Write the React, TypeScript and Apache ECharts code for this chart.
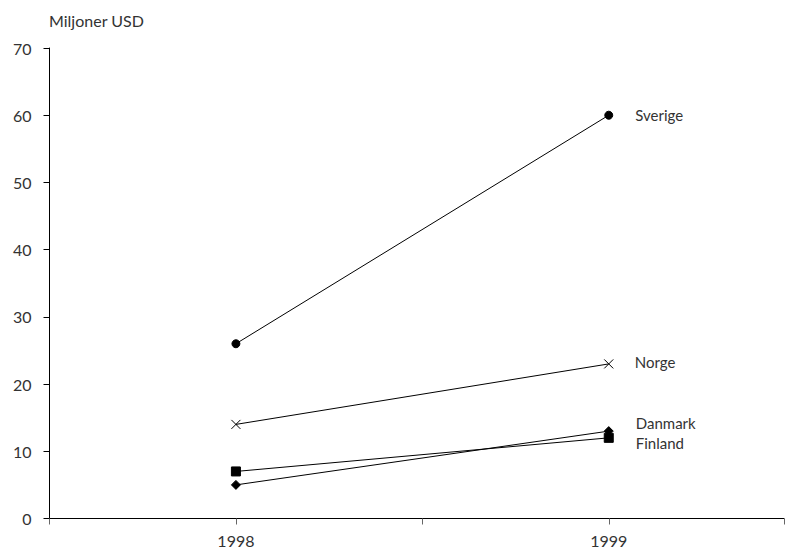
import React, { useEffect, useRef } from "react";
import * as echarts from "echarts";

const years = [1998, 1999];
const seriesNames = ["Sverige", "Norge", "Danmark", "Finland"];
const sverige = [26, 60];
const norge = [14, 23];
const danmark = [5, 13];
const finland = [7, 12];
const yTicks = [0, 10, 20, 30, 40, 50, 60, 70];
const yTitle = "Miljoner USD";

const FONT = "Lato";
const TXT = "#333";

export default function App() {
  const ref = useRef<HTMLDivElement>(null);
  useEffect(() => {
    if (!ref.current) return;
    const chart = echarts.init(ref.current, undefined, { renderer: "svg" });
    const values = [sverige, norge, danmark, finland];
    const symbols = [
      "circle",
      "path://M0,0L10,10M10,0L0,10",
      "diamond",
      "rect",
    ];
    const sizes = [8, 9, 9, 9];
    const offsets = [
      [0, 0],
      [-3, -2],
      [0, -8],
      [0, 5],
    ];
    const series = seriesNames.map((name, i) => ({
      type: "line",
      name,
      data: years.map((y, j) => [y, values[i][j]]),
      symbol: symbols[i],
      symbolSize: sizes[i],
      showAllSymbol: true,
      lineStyle: { color: "#000", width: 1 },
      itemStyle: { color: i === 1 ? "none" : "#000", borderColor: "#000", borderWidth: 1 },
      label: {
        show: true,
        position: "right",
        distance: 22,
        offset: offsets[i],
        color: TXT,
        fontFamily: FONT,
        fontSize: 15,
        formatter: (p: any) => (p.dataIndex === years.length - 1 ? name : ""),
      },
      emphasis: { disabled: true },
    }));
    chart.setOption({
      animation: false,
      grid: { left: 49.5, right: 0, top: 48, bottom: 36.5 },
      xAxis: {
        type: "value",
        min: 1997.5,
        max: 1999.47,
        interval: 0.5,
        axisLine: { show: true, lineStyle: { color: "#000", width: 1 } },
        axisTick: { show: true, length: 6, lineStyle: { color: "#666" } },
        splitLine: { show: false },
        axisLabel: {
          margin: 14,
          color: TXT,
          fontFamily: FONT,
          fontSize: 16,
          formatter: (v: number) => (years.includes(v) ? String(v) : ""),
        },
      },
      yAxis: {
        type: "value",
        min: yTicks[0],
        max: yTicks[yTicks.length - 1],
        interval: 10,
        axisLine: { show: true, lineStyle: { color: "#000", width: 1 } },
        axisTick: { show: true, length: 6, lineStyle: { color: "#000" } },
        splitLine: { show: false },
        axisLabel: { margin: 18, color: TXT, fontFamily: FONT, fontSize: 16 },
      },
      graphic: [
        {
          type: "text",
          left: 49,
          top: 12,
          style: { text: yTitle, fill: TXT, font: `16px ${FONT}` },
        },
      ],
      series,
    });
    return () => chart.dispose();
  }, []);
  return (
    <div
      ref={ref}
      style={{ position: "absolute", left: 0, top: 0, width: 787, height: 555, background: "#fff" }}
    />
  );
}
